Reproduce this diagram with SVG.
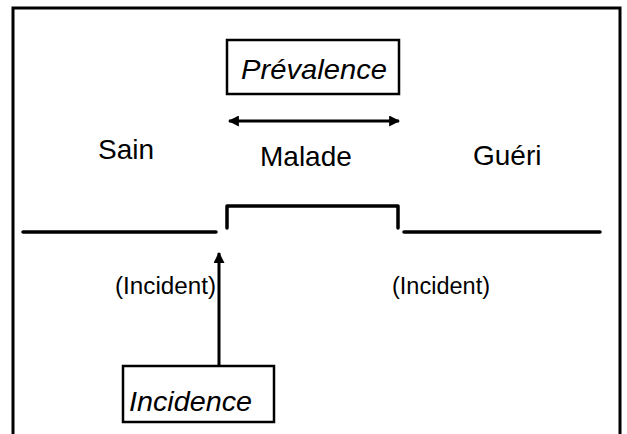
<svg xmlns="http://www.w3.org/2000/svg" width="627" height="434" viewBox="0 0 627 434">
  <defs>
    <marker id="tip" viewBox="0 0 10 10" refX="9" refY="5" markerWidth="11" markerHeight="11" markerUnits="userSpaceOnUse" orient="auto-start-reverse">
      <path d="M0,0 L10,5 L0,10 Z" fill="#000"/>
    </marker>
  </defs>
  <style>
    .lbl { font-family: "Liberation Sans", Arial, sans-serif; font-size: 28px; fill: #000; }
    .small { font-family: "Liberation Sans", Arial, sans-serif; font-size: 23px; fill: #000; }
    .ital { font-family: "Liberation Sans", Arial, sans-serif; font-size: 28px; font-style: italic; fill: #000; }
    .box { fill: #fff; stroke: #000; stroke-width: 2.5; }
    .line { fill: none; stroke: #000; stroke-width: 3.5; stroke-linecap: round; stroke-linejoin: round; }
    .arrow { fill: none; stroke: #000; stroke-width: 3; }
  </style>
  <rect width="627" height="434" fill="#fff"/>
  <!-- outer frame, open at the bottom -->
  <path d="M13,440 L13,8 L620,8 L620,440" fill="none" stroke="#000" stroke-width="3"/>

  <g id="state-labels">
    <text class="lbl" x="98" y="159">Sain</text>
    <text class="lbl" x="260" y="166">Malade</text>
    <text class="lbl" x="473" y="165">Guéri</text>
  </g>

  <g id="connectors">
    <!-- health status timeline with the illness step -->
    <path class="line" d="M23,232 L216,232"/>
    <path class="line" d="M227,228 L227,206 L398,206 L398,228"/>
    <path class="line" d="M404,232 L600,232"/>
    <!-- prevalence span -->
    <line class="arrow" x1="229" y1="121" x2="399" y2="121" marker-start="url(#tip)" marker-end="url(#tip)"/>
    <!-- incidence arrow -->
    <line class="arrow" x1="219" y1="366" x2="219" y2="253" marker-end="url(#tip)"/>
  </g>

  <g id="incident-labels">
    <text class="small" x="115" y="294" textLength="101" lengthAdjust="spacingAndGlyphs">(Incident)</text>
    <text class="small" x="392" y="294" textLength="98" lengthAdjust="spacingAndGlyphs">(Incident)</text>
  </g>

  <g id="prevalence">
    <rect class="box" x="227" y="40" width="172" height="54"/>
    <text class="ital" x="241" y="79" textLength="146" lengthAdjust="spacingAndGlyphs">Prévalence</text>
  </g>

  <g id="incidence">
    <rect class="box" x="123" y="366" width="151" height="56"/>
    <text class="ital" x="129" y="411" textLength="123" lengthAdjust="spacingAndGlyphs">Incidence</text>
  </g>
</svg>
